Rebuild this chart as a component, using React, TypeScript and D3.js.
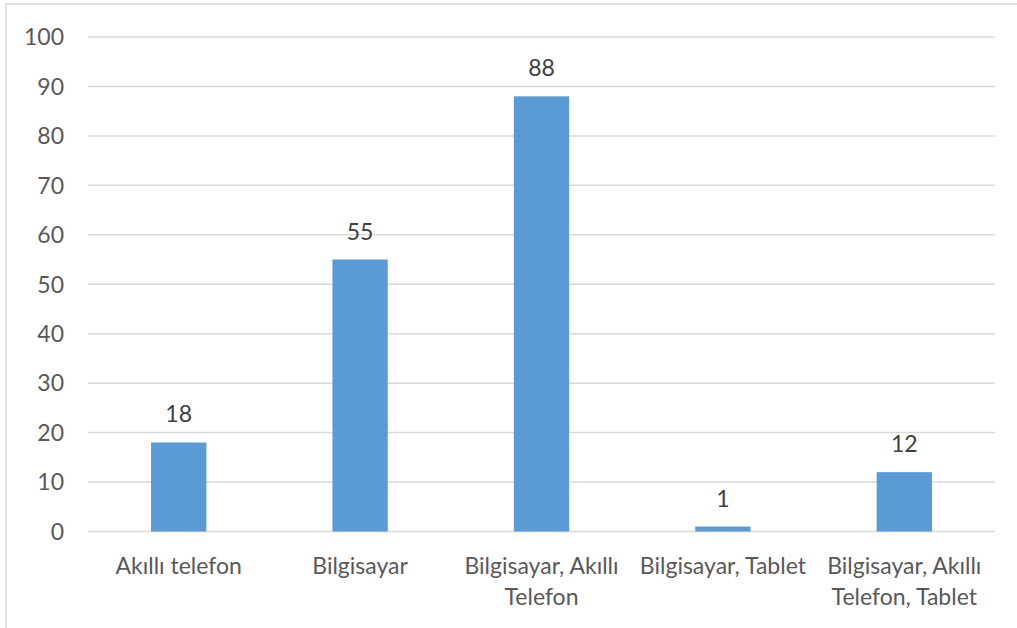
import React from "react";
import * as d3 from "d3";

const categories = [
  "Akıllı telefon",
  "Bilgisayar",
  "Bilgisayar, Akıllı\nTelefon",
  "Bilgisayar, Tablet",
  "Bilgisayar, Akıllı\nTelefon, Tablet",
];
const values = [18, 55, 88, 1, 12];
const yTicks = [0, 10, 20, 30, 40, 50, 60, 70, 80, 90, 100];

const W = 1017;
const H = 628;
const FONT = "Lato, 'Open Sans', sans-serif";
const FS = 23;

export default function App() {
  const left = 88;
  const right = 995;
  const top = 37;
  const bottom = 531.5;

  const x = d3.scaleBand<string>().domain(categories).range([left, right]).paddingInner(0.695).paddingOuter(0.3475);
  const y = d3.scaleLinear().domain([0, 100]).range([bottom, top]);

  return (
    <div style={{ position: "absolute", left: 0, top: 0, width: W, height: H, background: "#fff" }}>
      <svg width={W} height={H} style={{ display: "block" }} fontFamily={FONT}>
        <rect x={6} y={4} width={W + 10} height={H + 10} fill="#fff" stroke="#D9D9D9" strokeWidth={1.5} />
        {yTicks.map((t) => (
          <g key={t}>
            <line x1={left} x2={right} y1={y(t)} y2={y(t)} stroke="#D9D9D9" strokeWidth={1.5} />
            <text x={64} y={y(t)} dy="0.36em" textAnchor="end" fontSize={FS} fill="#595959">
              {t}
            </text>
          </g>
        ))}
        {categories.map((c, i) => {
          const bx = x(c)!;
          const bw = x.bandwidth();
          const v = values[i];
          const lines = c.split("\n");
          const cx = left + ((right - left) / categories.length) * (i + 0.5);
          return (
            <g key={c}>
              <rect x={bx} y={y(v)} width={bw} height={y(0) - y(v)} fill="#5B9BD5" />
              <text x={bx + bw / 2} y={y(v) - 20} textAnchor="middle" fontSize={FS} fill="#404040">
                {v}
              </text>
              {lines.map((ln, j) => (
                <text key={j} x={cx} y={574 + j * 31} textAnchor="middle" fontSize={FS} fill="#595959">
                  {ln}
                </text>
              ))}
            </g>
          );
        })}
      </svg>
    </div>
  );
}
